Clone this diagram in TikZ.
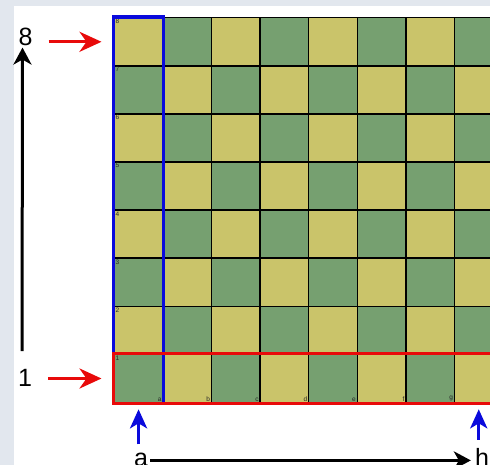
\documentclass[tikz,border=0pt]{standalone}
\usepackage{fontspec}
\setmainfont{Liberation Sans}
\usetikzlibrary{arrows.meta, positioning}

\definecolor{lightsq}{RGB}{202,196,106}
\definecolor{darksq}{RGB}{118,160,112}
\definecolor{slidebg}{RGB}{226,231,238}
\definecolor{boxblue}{RGB}{10,10,220}
\definecolor{boxred}{RGB}{232,10,10}

\begin{document}
\begin{tikzpicture}[x=1pt, y=-1pt, >=Stealth,
    square/.style={draw=black, line width=1.5pt, minimum width=48.6pt,
        minimum height=48.1pt, inner sep=0pt, anchor=north west},
    tinylabel/.style={font=\fontsize{6.5}{7}\selectfont, text=black!85, inner sep=2pt},
    biglabel/.style={font=\fontsize{25}{25}\selectfont, inner sep=0pt},
    redarrow/.style={boxred, line width=3.4pt, -{Stealth[length=22pt, width=20pt, inset=7pt]}},
    bluearrow/.style={boxblue, line width=3.4pt, -{Stealth[length=19pt, width=17pt, inset=5pt]}},
    axisarrow/.style={black, line width=3pt, -{Stealth[length=17pt, width=18pt, inset=5pt]}}]

    % Page and slide background
    \useasboundingbox (0,0) rectangle (490,465);
    \clip (0,0) rectangle (490,465);
    \fill[slidebg] (0,0) rectangle (490,465);
    \fill[white] (14,6) rectangle (490,465);

    % Define variables/coordinates
    \def\BoardX{113.5}
    \def\BoardY{17}
    \def\Sq{48.6}
    \def\SqV{48.1}

    % Draw the squares
    \foreach \f [count=\i from 0] in {a,b,c,d,e,f,g,h} {
        \foreach \r in {1,...,8} {
            \pgfmathtruncatemacro\p{mod(\i+\r,2)}
            \ifnum\p=0 \def\sqcol{lightsq}\else\def\sqcol{darksq}\fi
            \node[square, fill=\sqcol] (sq-\f-\r)
                at ({\BoardX+\i*\Sq}, {\BoardY+(8-\r)*\SqV}) {};
        }
    }

    % Small rank and file marks
    \foreach \r in {1,...,8}
        \node[tinylabel, anchor=north west] at (sq-a-\r.north west) {\r};
    \foreach \f in {a,b,c,d,e,f,g,h}
        \node[tinylabel, anchor=south east] at (sq-\f-1.south east) {\f};

    % Highlight the a-file and the first rank
    \draw[boxblue, line width=3.2pt] (sq-a-8.north west) rectangle (sq-a-1.south east);
    \draw[boxred, line width=3.2pt] (sq-a-1.north west) rectangle (sq-h-1.south east);

    % Big labels
    \node[biglabel] (lab8) at (25.5,36.5) {8};
    \node[biglabel] (lab1) at (25,378) {1};
    \node[biglabel, anchor=base] (laba) at (141,466) {a};
    \node[biglabel, anchor=base] (labh) at (482,466) {h};

    % Rank arrows
    \draw[redarrow, shorten <=16pt, shorten >=12pt]
        (lab8.east |- sq-a-8.west) -- (sq-a-8.west);
    \draw[redarrow, shorten <=16pt, shorten >=12pt]
        (lab1.east |- sq-a-1.west) -- (sq-a-1.west);
    \draw[axisarrow, shorten <=18pt, shorten >=2pt]
        ([xshift=-3pt]lab1.north) -- ([xshift=-3pt]lab8.south);

    % File arrows
    \draw[bluearrow, shorten <=8pt, shorten >=6pt]
        (laba.north -| sq-a-1.south) -- (sq-a-1.south);
    \draw[bluearrow, shorten <=8pt, shorten >=6pt]
        (labh.north -| sq-h-1.south) -- (sq-h-1.south);
    \draw[axisarrow, shorten <=2pt, shorten >=4pt]
        ([yshift=-1pt]laba.east) -- ([yshift=-1pt]laba.east -| labh.west);

\end{tikzpicture}
\end{document}
